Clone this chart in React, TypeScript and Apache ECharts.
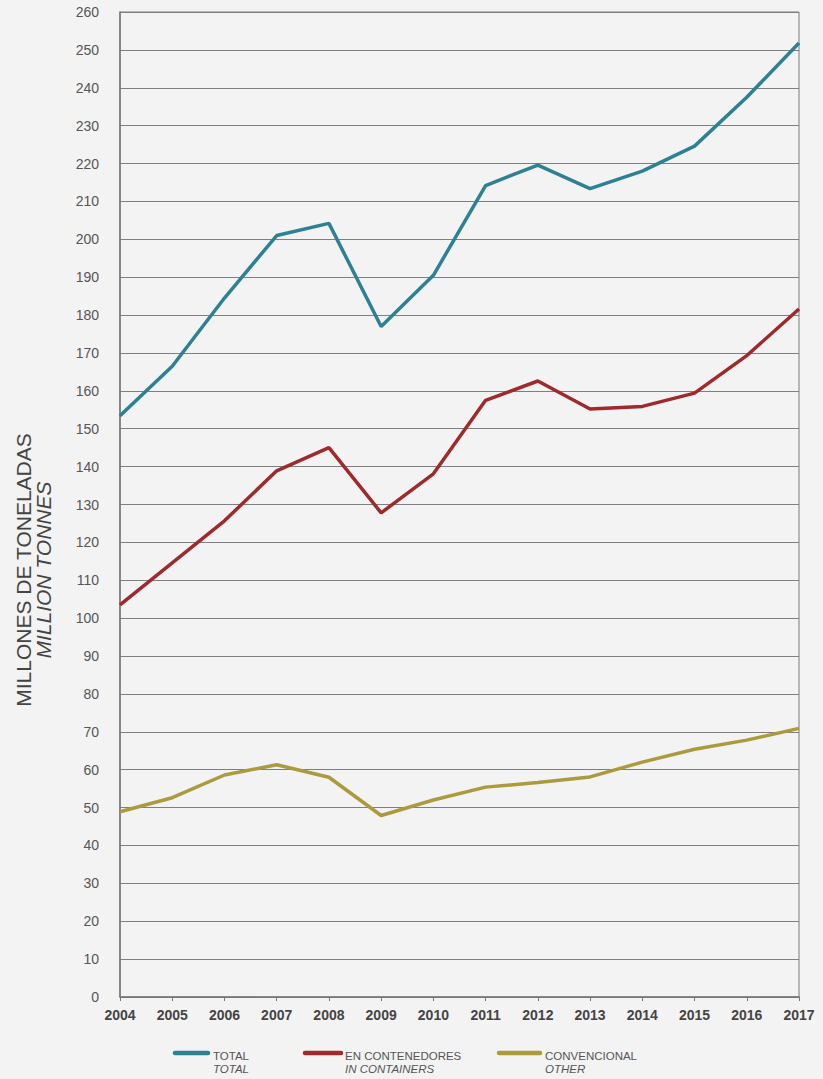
import React, { useEffect, useRef } from "react";
import * as echarts from "echarts";

const years = ["2004","2005","2006","2007","2008","2009","2010","2011","2012","2013","2014","2015","2016","2017"];
const totalValues = [153.4, 166.5, 184.5, 201, 204.2, 177, 190.5, 214.2, 219.6, 213.4, 218, 224.6, 237.5, 251.8];
const containerValues = [103.5, 114.6, 125.7, 138.9, 145, 127.8, 138.1, 157.5, 162.6, 155.2, 155.9, 159.4, 169.3, 181.6];
const otherValues = [48.9, 52.6, 58.6, 61.3, 58, 47.9, 52, 55.4, 56.6, 58.1, 62, 65.4, 67.8, 70.9];
const seriesNames = ["TOTAL", "EN CONTENEDORES", "CONVENCIONAL"];
const seriesSubNames = ["TOTAL", "IN CONTAINERS", "OTHER"];
const colors = ["#2d8192", "#9d2a2c", "#ab9a3e"];
const yTitle = "MILLONES DE TONELADAS";
const ySubTitle = "MILLION TONNES";

export default function App() {
  const ref = useRef<HTMLDivElement>(null);
  useEffect(() => {
    document.body.style.margin = "0";
    const chart = echarts.init(ref.current!, null, { renderer: "svg" });
    const lineStart = [175, 305, 499];
    const lineLen = [33, 36, 41];
    const textX = [213, 345, 545];
    const legendGraphics: any[] = [];
    seriesNames.forEach((n, i) => {
      const x = lineStart[i];
      legendGraphics.push({
        type: "line",
        shape: { x1: x, y1: 1053, x2: x + lineLen[i], y2: 1053 },
        style: { stroke: colors[i], lineWidth: 4.5, lineCap: "round" },
      });
      legendGraphics.push({
        type: "text",
        x: textX[i],
        y: 1056,
        style: { text: n, fill: "#555", font: "11.5px 'Liberation Sans', Arial, sans-serif", verticalAlign: "middle", align: "left" },
      });
      legendGraphics.push({
        type: "text",
        x: textX[i],
        y: 1069,
        style: { text: seriesSubNames[i], fill: "#555", font: "italic 11.5px 'Liberation Sans', Arial, sans-serif", verticalAlign: "middle", align: "left" },
      });
    });
    chart.setOption({
      animation: false,
      backgroundColor: "#f3f3f3",
      grid: { left: 120, right: 24, top: 12, bottom: 82, show: true, borderColor: "#7a7a7a", borderWidth: 1 },
      xAxis: {
        type: "category",
        data: years,
        boundaryGap: false,
        axisLine: { lineStyle: { color: "#777", width: 1.5 } },
        axisTick: { show: true, length: 4, alignWithLabel: true, lineStyle: { color: "#777" } },
        axisLabel: { color: "#444", fontWeight: "bold", fontSize: 14, fontFamily: "'Liberation Sans', Arial, sans-serif", margin: 11, interval: 0 },
        splitLine: { show: false },
      },
      yAxis: {
        type: "value",
        min: 0,
        max: 260,
        interval: 10,
        axisLine: { show: true, lineStyle: { color: "#777", width: 1.5 } },
        axisTick: { show: false },
        axisLabel: { color: "#555", fontSize: 14, fontFamily: "'Liberation Sans', Arial, sans-serif", margin: 21 },
        splitLine: { lineStyle: { color: "#7f7f7f", width: 1 } },
      },
      series: [
        { name: seriesNames[0], type: "line", data: totalValues, symbol: "none", lineStyle: { color: colors[0], width: 3.5 }, itemStyle: { color: colors[0] } },
        { name: seriesNames[1], type: "line", data: containerValues, symbol: "none", lineStyle: { color: colors[1], width: 3.5 }, itemStyle: { color: colors[1] } },
        { name: seriesNames[2], type: "line", data: otherValues, symbol: "none", lineStyle: { color: colors[2], width: 3.5 }, itemStyle: { color: colors[2] } },
      ],
      graphic: [
        {
          type: "text",
          x: 23,
          y: 570,
          rotation: Math.PI / 2,
          style: { text: yTitle, fill: "#444", font: "21px 'Liberation Sans', Arial, sans-serif", align: "center", verticalAlign: "middle" },
        },
        {
          type: "text",
          x: 43,
          y: 570,
          rotation: Math.PI / 2,
          style: { text: ySubTitle, fill: "#444", font: "italic 21px 'Liberation Sans', Arial, sans-serif", align: "center", verticalAlign: "middle" },
        },
        ...legendGraphics,
      ],
    });
    return () => chart.dispose();
  }, []);
  return <div ref={ref} style={{ width: 823, height: 1079 }} />;
}
